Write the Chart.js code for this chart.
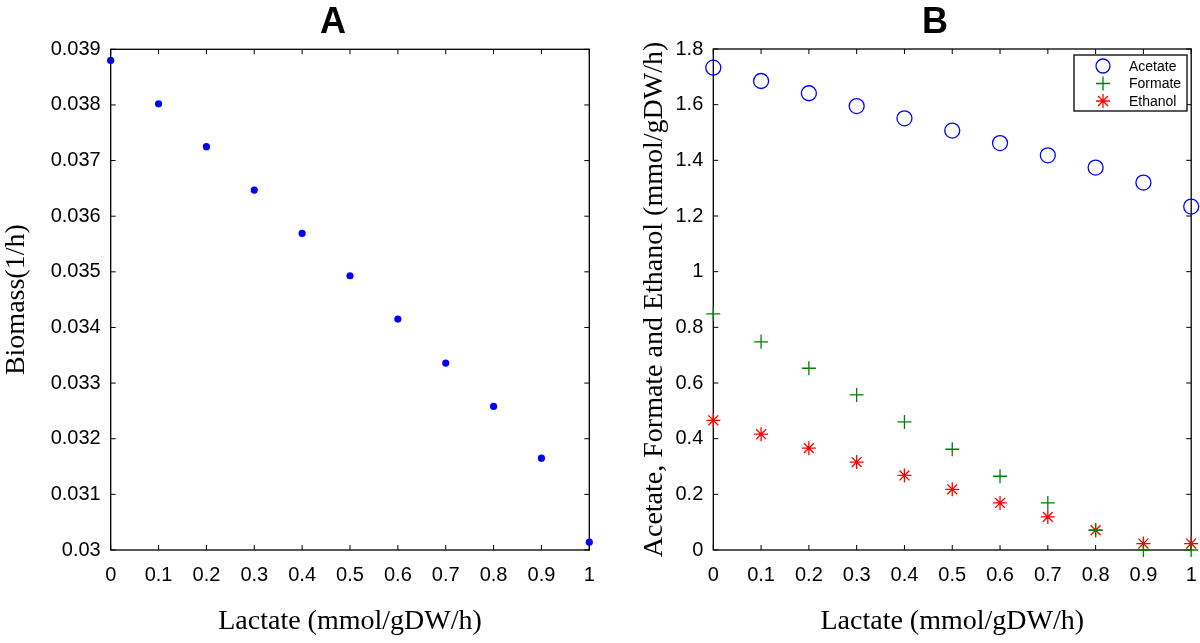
<!DOCTYPE html>
<html>
<head>
<meta charset="utf-8">
<script src="https://cdn.jsdelivr.net/npm/chart.js@4.4.1/dist/chart.umd.min.js"></script>
<style>
html, body { margin: 0; padding: 0; background: #fff; }
#wrap { position: relative; width: 1200px; height: 643px; }
.panel { position: absolute; top: 0; width: 600px; height: 643px; }
</style>
</head>
<body>
<div id="wrap">
    <div class="panel" style="left:0"><canvas id="chartA" width="600" height="643"></canvas></div>
    <div class="panel" style="left:600px"><canvas id="chartB" width="600" height="643"></canvas></div>
</div>
<script>
// DATA
const lactate = [0, 0.1, 0.2, 0.3, 0.4, 0.5, 0.6, 0.7, 0.8, 0.9, 1];
const biomass = [0.0388, 0.03802, 0.03725, 0.03647, 0.03569, 0.03493, 0.03415, 0.03336, 0.03258, 0.03165, 0.03014];
const acetate = [1.733, 1.685, 1.641, 1.595, 1.551, 1.507, 1.462, 1.418, 1.374, 1.320, 1.234];
const formate = [0.848, 0.748, 0.653, 0.557, 0.460, 0.362, 0.265, 0.169, 0.071, 0.0, 0.0];
const ethanol = [0.466, 0.416, 0.366, 0.316, 0.268, 0.218, 0.169, 0.119, 0.071, 0.023, 0.023];
const seriesNames = ['Acetate', 'Formate', 'Ethanol'];
const xLabel = 'Lactate (mmol/gDW/h)';
const yLabelA = 'Biomass(1/h)';
const yLabelB = 'Acetate, Formate and Ethanol (mmol/gDW/h)';

const toPoints = ys => ys.map((y, i) => ({ x: lactate[i], y: y }));

const TICK_FONT = { family: '"Liberation Sans", Arial, sans-serif', size: 20 };
const TITLE_FONT = { family: '"Liberation Serif", "Times New Roman", serif', size: 28, lineHeight: 1.0 };

// draws the matlab style box + inward ticks, the panel letter and the legend
const decorPlugin = {
    id: 'decor',
    beforeDatasetsDraw(chart) {
        const { ctx, chartArea: a, scales } = chart;
        ctx.save();
        ctx.strokeStyle = '#000';
        ctx.lineWidth = 1.3;
        ctx.strokeRect(a.left, a.top, a.right - a.left, a.bottom - a.top);
        ctx.lineWidth = 1;
        ctx.beginPath();
        scales.x.ticks.forEach(t => {
            const px = scales.x.getPixelForValue(t.value);
            ctx.moveTo(px, a.bottom); ctx.lineTo(px, a.bottom - 5);
            ctx.moveTo(px, a.top); ctx.lineTo(px, a.top + 5);
        });
        scales.y.ticks.forEach(t => {
            const py = scales.y.getPixelForValue(t.value);
            ctx.moveTo(a.left, py); ctx.lineTo(a.left + 5, py);
            ctx.moveTo(a.right, py); ctx.lineTo(a.right - 5, py);
        });
        ctx.stroke();
        ctx.restore();
    },
    afterDraw(chart, args, opts) {
        const ctx = chart.ctx;
        ctx.save();
        ctx.fillStyle = '#000';
        ctx.font = 'bold 36px "Liberation Sans", Arial, sans-serif';
        ctx.textAlign = 'center';
        ctx.textBaseline = 'middle';
        ctx.fillText(opts.letter, opts.letterX, 23);

        if (opts.legend) {
            const L = opts.legend;
            ctx.lineWidth = 1.3;
            ctx.strokeStyle = '#000';
            ctx.fillStyle = '#fff';
            ctx.fillRect(L.x, L.y, L.w, L.h);
            ctx.strokeRect(L.x, L.y, L.w, L.h);
            ctx.font = '14px "Liberation Sans", Arial, sans-serif';
            ctx.textAlign = 'left';
            chart.data.datasets.forEach((ds, i) => {
                const cy = L.y + 11 + i * 17.5;
                ctx.strokeStyle = ds.borderColor;
                ctx.fillStyle = 'rgba(0,0,0,0)';
                ctx.lineWidth = ds.borderWidth;
                Chart.helpers.drawPoint(ctx, {
                    pointStyle: ds.pointStyle, rotation: 0,
                    radius: 7, borderWidth: ds.borderWidth
                }, L.x + 29, cy);
                ctx.fillStyle = '#000';
                ctx.fillText(ds.label, L.x + 55, cy + 1);
            });
        }
        ctx.restore();
    }
};

function xScale(height) {
    return {
        type: 'linear', min: 0, max: 1,
        grid: { display: false, drawTicks: false },
        border: { display: false },
        ticks: {
            stepSize: 0.1, padding: 13, color: '#000', font: TICK_FONT,
            callback: v => String(Math.round(v * 10) / 10)
        },
        title: { display: true, text: xLabel, color: '#000', font: TITLE_FONT, padding: { top: 0, bottom: 7 } },
        afterFit(scale) {
            scale.height = height;
            scale.paddingLeft = 0;
            scale.paddingRight = 0;
        }
    };
}

// PANEL A
new Chart(document.getElementById('chartA'), {
    type: 'scatter',
    data: {
        datasets: [{
            label: 'Biomass',
            data: toPoints(biomass),
            pointStyle: 'circle',
            pointRadius: 3.6,
            backgroundColor: '#0000ff',
            borderColor: '#0000ff',
            borderWidth: 0,
            clip: false
        }]
    },
    options: {
        responsive: false,
        devicePixelRatio: 1,
        animation: false,
        layout: { padding: { left: 0, right: 10.7, top: 49.3, bottom: 0 } },
        plugins: {
            legend: { display: false },
            tooltip: { enabled: false },
            decor: { letter: 'A', letterX: 333 }
        },
        scales: {
            x: xScale(93),
            y: {
                type: 'linear', min: 0.03, max: 0.039,
                grid: { display: false, drawTicks: false },
                border: { display: false },
                ticks: {
                    stepSize: 0.001, padding: 10, color: '#000', font: TICK_FONT,
                    callback: v => String(Number(v.toFixed(3)))
                },
                title: { display: true, text: yLabelA, color: '#000', font: TITLE_FONT, padding: { top: 3, bottom: 0 } },
                afterFit(scale) {
                    scale.width = 110.7;
                    scale.paddingTop = 0;
                    scale.paddingBottom = 0;
                }
            }
        }
    },
    plugins: [decorPlugin]
});

// PANEL B
new Chart(document.getElementById('chartB'), {
    type: 'scatter',
    data: {
        datasets: [
            {
                label: seriesNames[0],
                data: toPoints(acetate),
                pointStyle: 'circle',
                pointRadius: 7.5,
                backgroundColor: 'rgba(0,0,0,0)',
                borderColor: '#0000ff',
                borderWidth: 1.3,
                clip: false
            },
            {
                label: seriesNames[1],
                data: toPoints(formate),
                pointStyle: 'cross',
                pointRadius: 7,
                backgroundColor: '#008000',
                borderColor: '#008000',
                borderWidth: 1.3,
                clip: false
            },
            {
                label: seriesNames[2],
                data: toPoints(ethanol),
                pointStyle: 'star',
                pointRadius: 7,
                backgroundColor: '#ff0000',
                borderColor: '#ff0000',
                borderWidth: 1.3,
                clip: false
            }
        ]
    },
    options: {
        responsive: false,
        devicePixelRatio: 1,
        animation: false,
        layout: { padding: { left: 0, right: 8, top: 49, bottom: 0 } },
        plugins: {
            legend: { display: false },
            tooltip: { enabled: false },
            decor: { letter: 'B', letterX: 335, legend: { x: 474, y: 55, w: 113, h: 56 } }
        },
        scales: {
            x: xScale(93),
            y: {
                type: 'linear', min: 0, max: 1.8,
                grid: { display: false, drawTicks: false },
                border: { display: false },
                ticks: {
                    stepSize: 0.2, padding: 10, color: '#000', font: TICK_FONT,
                    callback: v => String(Number(v.toFixed(1)))
                },
                title: { display: true, text: yLabelB, color: '#000', font: TITLE_FONT, padding: { top: 41, bottom: 0 } },
                afterFit(scale) {
                    scale.width = 113.3;
                    scale.paddingTop = 0;
                    scale.paddingBottom = 0;
                }
            }
        }
    },
    plugins: [decorPlugin]
});
</script>
</body>
</html>
